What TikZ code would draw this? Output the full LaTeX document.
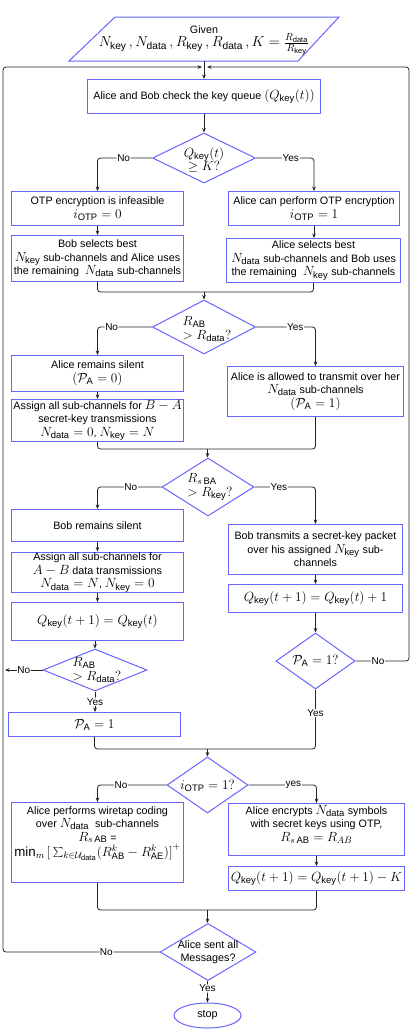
\RequirePackage{fix-cm}
\documentclass[tikz,border=0pt]{standalone}
\usepackage{fontspec}
\setmainfont{Liberation Sans}
\usetikzlibrary{shapes.geometric,arrows.meta}
\DeclareMathSizes{10.75}{13.3}{9.4}{7.5}
\DeclareMathSizes{12}{14.5}{10.2}{7.5}
\definecolor{bcol}{RGB}{102,102,255}
\definecolor{lcol}{RGB}{34,34,34}
\newcommand\boxfont{\fontsize{10.75}{13.5}\selectfont}
\newcommand\labfont{\fontsize{10}{12}\selectfont}
\begin{document}
\begin{tikzpicture}[x=1pt,y=-1pt,
  box/.style={color=bcol, draw=bcol, text=black, line width=1pt, rectangle, align=center, inner sep=1pt, font=\boxfont},
  dia/.style={color=bcol, draw=bcol, line width=1pt, diamond, inner sep=0pt},
  txt/.style={text=black, align=center, inner sep=0pt, font=\boxfont},
  conn/.style={color=lcol, draw=lcol, line width=0.8pt, rounded corners=3pt},
  arr/.style={conn, -{Stealth[length=4.5pt,width=3.6pt]}},
  lab/.style={fill=white, inner sep=0.6pt, font=\labfont, text=black}]
\useasboundingbox (0,0) rectangle (415,1029);

% start
\draw[color=bcol, line width=1pt] (69,61) -- (115,17) -- (339,17) -- (298,61) -- cycle;
\node[txt] (given) at (204,40.5) {Given\\{\fontsize{12}{15}\selectfont $N_{\mathrm{key}}\,, N_{\mathrm{data}}\,, R_{\mathrm{key}}\,, R_{\mathrm{data}}\,, K=\frac{R_{\mathrm{data}}}{R_{\mathrm{key}}}$}};
\coordinate (gb) at (204,61);
\coordinate (inL) at (202,67);
\coordinate (inR) at (207,67);
\coordinate (lc) at (3,67);
\coordinate (rc) at (409,67);

\node[box, minimum width=233pt, minimum height=34pt] (b1) at (204,96.5) {Alice and Bob check the key queue $(Q_{\mathrm{key}}(t))$};

\node[dia, minimum width=103pt, minimum height=50pt] (d1) at (204,158) {};
\node[txt] (t1) at (204,160) {$Q_{\mathrm{key}}(t)$\\$\geq K?$};

\node[box, minimum width=172pt, minimum height=34pt] (b2L) at (97.5,208.5) {OTP encryption is infeasible\\$i_{\mathrm{OTP}}=0$};
\node[box, minimum width=171pt, minimum height=34pt] (b2R) at (314,208.5) {Alice can perform OTP encryption\\$i_{\mathrm{OTP}}=1$};

\node[box, minimum width=172pt, minimum height=46pt] (b3L) at (97.5,258.5) {Bob selects best\\$N_{\mathrm{key}}$ sub-channels and Alice uses\\the remaining \ $N_{\mathrm{data}}$ sub-channels};
\node[box, minimum width=174pt, minimum height=44pt] (b3R) at (313.5,260.5) {Alice selects best\\$N_{\mathrm{data}}$ sub-channels and Bob uses\\the remaining \ $N_{\mathrm{key}}$ sub-channels};
\coordinate (m1) at (204,292);

\node[dia, minimum width=103pt, minimum height=54pt] (d2) at (204,327) {};
\node[txt, align=left] (t2) at (207,329) {$R_{\mathrm{AB}}$\\$>R_{\mathrm{data}}?$};

\node[box, minimum width=172pt, minimum height=36pt] (b4L) at (97.5,373.5) {Alice remains silent\\$(\mathcal{P}_{\mathrm{A}}=0)$};
\node[box, minimum width=172pt, minimum height=42pt] (b5L) at (97.5,420.5) {Assign all sub-channels for $B-A$\\secret-key transmissions\\$N_{\mathrm{data}}=0$, $N_{\mathrm{key}}=N$};
\node[box, minimum width=176pt, minimum height=50pt] (b4R) at (315.5,391.5) {Alice is allowed to transmit over her\\$N_{\mathrm{data}}$ sub-channels\\$(\mathcal{P}_{\mathrm{A}}=1)$};
\coordinate (m2) at (207.5,449);

\node[dia, minimum width=92pt, minimum height=58pt] (d3) at (208,487) {};
\node[txt, align=left] (t3) at (210,487) {$R_{s\,\mathrm{BA}}$\\$>R_{\mathrm{key}}?$};

\node[box, minimum width=172pt, minimum height=32pt] (b6L) at (97.5,525.5) {Bob remains silent};
\node[box, minimum width=172pt, minimum height=38pt] (b7L) at (97.5,572.5) {Assign all sub-channels for\\$A-B$ data transmissions\\$N_{\mathrm{data}}=N$, $N_{\mathrm{key}}=0$};
\node[box, minimum width=172pt, minimum height=38pt] (b8L) at (97.5,621.5) {$Q_{\mathrm{key}}(t+1)=Q_{\mathrm{key}}(t)$};

\node[dia, minimum width=104pt, minimum height=42pt] (d4L) at (95,670) {};
\node[txt, align=left] (t4L) at (97,670) {$R_{\mathrm{AB}}$\\$>R_{\mathrm{data}}?$};
\coordinate (lno) at (5,670);
\node[box, minimum width=172pt, minimum height=24pt] (b9L) at (94.5,724.5) {$\mathcal{P}_{\mathrm{A}}=1$};

\node[box, minimum width=174pt, minimum height=50pt] (b6R) at (315.5,549.5) {Bob transmits a secret-key packet\\over his assigned $N_{\mathrm{key}}$ sub-\\channels};
\node[box, minimum width=174pt, minimum height=28pt] (b7R) at (315.5,598.5) {$Q_{\mathrm{key}}(t+1)=Q_{\mathrm{key}}(t)+1$};
\node[dia, minimum width=79pt, minimum height=56pt] (d4R) at (315.5,661) {};
\node[txt] (t4R) at (315.5,661) {$\mathcal{P}_{\mathrm{A}}=1?$};
\coordinate (m3) at (207.5,749);

\node[dia, minimum width=81pt, minimum height=56pt] (d5) at (207.5,785) {};
\node[txt] (t5) at (207.5,786) {$i_{\mathrm{OTP}}=1?$};

\node[box, minimum width=172pt, minimum height=80pt] (b10L) at (97.5,842.5) {};
\node[txt, anchor=north] (t10L) at (97.5,806) {Alice performs wiretap coding\\over $N_{\mathrm{data}}$ \ sub-channels\\$R_{s\,\mathrm{AB}}$ =\\$\min_m \big[\sum_{k\in\mathcal{U}_{\mathrm{data}}}(R^k_{\mathrm{AB}}-R^k_{\mathrm{AE}})\big]^+$};
\node[box, minimum width=176pt, minimum height=52pt] (b10R) at (316.5,829.5) {};
\node[txt] (t10R) at (316.5,824) {Alice encrypts $N_{\mathrm{data}}$ symbols\\with secret keys using OTP,\\$R_{s\,\mathrm{AB}}=R_{AB}$};
\node[box, minimum width=176pt, minimum height=24pt] (b11R) at (316.5,878.5) {$Q_{\mathrm{key}}(t+1)=Q_{\mathrm{key}}(t+1)-K$};
\coordinate (m4) at (207.5,910);

\node[dia, minimum width=96pt, minimum height=57pt] (d6) at (208,952) {};
\node[txt] (t6) at (208,952) {Alice sent all\\Messages?};
\node[color=bcol, draw=bcol, text=black, line width=1pt, ellipse, minimum width=67pt, minimum height=25pt, inner sep=0pt, font=\boxfont] (stop) at (207.5,1015.5) {stop};

% connectors
\draw[arr] (gb) -- (b1.north);
\draw[arr] (b1.south) -- (d1.north);
\draw[arr] (d1.west) -| node[lab, pos=0.26]{No} (b2L.north);
\draw[arr] (d1.east) -| node[lab, pos=0.3]{Yes} (b2R.north);
\draw[arr] (b2L.south) -- (b2L.south |- b3L.north);
\draw[arr] (b2R.south) -- (b2R.south |- b3R.north);
\draw[conn] (b3L.south) |- (m1);
\draw[conn] (b3R.south) |- (m1);
\draw[arr] (m1) -- (d2.north);
\draw[arr] (d2.west) -| node[lab, pos=0.37]{No} (b4L.north);
\draw[arr] (d2.east) -| node[lab, pos=0.33]{Yes} (b4R.north);
\draw[arr] (b4L.south) -- (b5L.north);
\draw[conn] (b5L.south) |- (m2);
\draw[conn] (b4R.south) |- (m2);
\draw[arr] (m2) -- (m2 |- d3.north);
\draw[arr] (d3.west) -| node[lab, pos=0.24]{No} (b6L.north);
\draw[arr] (d3.east) -| node[lab, pos=0.2]{Yes} (b6R.north);
\draw[arr] (b6L.south) -- (b7L.north);
\draw[arr] (b7L.south) -- (b8L.north);
\draw[arr] (d4L.north |- b8L.south) -- (d4L.north);
\draw[arr] (d4L.west) -- node[lab]{No} (lno);
\draw[arr] (d4L.south) -- node[lab]{Yes} (d4L.south |- b9L.north);
\draw[arr] (b6R.south) -- (b7R.north);
\draw[arr] (b7R.south) -- (d4R.north);
\draw[arr] (d4R.east) -| node[lab, pos=0.21]{No} (rc) -- (inR);
\draw[conn] (b9L.south) |- (m3);
\draw[conn] (d4R.south) |- node[lab, pos=0.2]{Yes} (m3);
\draw[arr] (m3) -- (d5.north);
\draw[arr] (d5.west) -| node[lab, pos=0.33]{No} (b10L.north);
\draw[arr] (d5.east) -| node[lab, pos=0.33]{yes} (b10R.north);
\draw[arr] (b10R.south) -- (b11R.north);
\draw[conn] (b10L.south) |- (m4);
\draw[conn] (b11R.south) |- (m4);
\draw[arr] (m4) -- (m4 |- d6.north);
\draw[arr] (d6.west) -| node[lab, pos=0.17]{No} (lc) -- (inL);
\draw[arr] (d6.south -| stop.north) -- node[lab, pos=0.35]{Yes} (stop.north);
\end{tikzpicture}
\end{document}
